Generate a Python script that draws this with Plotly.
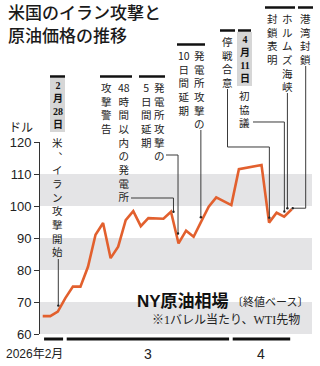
import plotly.graph_objects as go

# ---------------- data ----------------
dates = ["2026-02-25", "2026-02-26", "2026-02-27",
         "2026-03-02", "2026-03-03", "2026-03-04", "2026-03-05", "2026-03-06",
         "2026-03-09", "2026-03-10", "2026-03-11", "2026-03-12", "2026-03-13",
         "2026-03-16", "2026-03-17", "2026-03-18", "2026-03-19", "2026-03-20",
         "2026-03-23", "2026-03-24", "2026-03-25", "2026-03-26", "2026-03-27",
         "2026-03-30", "2026-03-31",
         "2026-04-01", "2026-04-02", "2026-04-06", "2026-04-07", "2026-04-08",
         "2026-04-09", "2026-04-10", "2026-04-13", "2026-04-14"]
prices = [65.6, 65.6, 67.0,
          71.2, 74.8, 74.8, 81.0, 91.0,
          94.7, 83.7, 87.3, 95.6, 98.4,
          93.7, 96.2, 96.2, 96.0, 98.2,
          88.3, 92.3, 90.4, 95.1, 99.8,
          102.7, 101.5,
          100.3, 111.5, 112.0, 112.4, 112.8,
          94.8, 97.9, 96.7, 99.0]
y_ticks = [60, 70, 80, 90, 100, 110, 120]
band_ranges = [(60, 70), (80, 90), (100, 110)]
month_labels = ["2026年2月", "3", "4"]
month_keys = ["2026-02", "2026-03", "2026-04"]

title_lines = ["米国のイラン攻撃と", "原油価格の推移"]
unit_label = "ドル"
legend_main = "NY原油相場"
legend_sub = "〔終値ベース〕"
legend_note = "※1バレル当たり、WTI先物"

# events: date the leader points to, and the text columns (right-to-left reading)
event_dates = ["2026-02-27", "2026-03-20", "2026-03-23", "2026-03-26",
               "2026-04-09", "2026-04-13", "2026-04-14", "2026-04-14"]
event_texts = [
    [["2", "月", "28", "日"], ["米", "︑", "イ", "ラ", "ン", "攻", "撃", "開", "始"]],
    [["攻", "撃", "警", "告"], ["48", "時", "間", "以", "内", "の", "発", "電", "所"]],
    [["5", "日", "間", "延", "期"], ["発", "電", "所", "攻", "撃", "の"]],
    [["10", "日", "間", "延", "期"], ["発", "電", "所", "攻", "撃", "の"]],
    [["停", "戦", "合", "意"]],
    [["4", "月", "11", "日"], ["初", "協", "議"]],
    [["封", "鎖", "表", "明"], ["ホ", "ル", "ム", "ズ", "海", "峡"]],
    [["港", "湾", "封", "鎖"]],
]

# ---------------- layout geometry (pixels) ----------------
W, H = 320, 366
L, R, T, B = 40, 8, 142, 32
PW, PH = W - L - R, H - T - B
XMIN, XMAX = -0.36, 35.69
YMIN, YMAX = 60, 120


def px_x(p):
    return (p - L) / PW


def px_y(p):
    return (H - B - p) / PH


def idx_px(i):
    return L + (i - XMIN) / (XMAX - XMIN) * PW


def val_py(v):
    return (H - B) - (v - YMIN) / (YMAX - YMIN) * PH


TXT = "#222222"
CJK = "Noto Sans CJK JP"
FS = 10.5            # vertical label font size
FS_HL = 10           # highlighted date font size

# per-event style: columns (xc, ytop, highlight), top bar (x0,x1,y), leader spec
event_style = [
    dict(cols=[(57.5, 79, True), (57.5, 134, False)], bar=(50, 65, 76.5),
         leader=("v", 259, 0.5, 6)),
    dict(cols=[(106, 79, False), (123.5, 79, False)], bar=(100, 132, 76.5),
         leader=("h", (131, 198), 2.5, 0)),
    dict(cols=[(146.5, 79, False), (159.5, 79, False)], bar=(139, 165, 76.5),
         leader=("h", (166, 155), -0.5, 10)),
    dict(cols=[(184, 47, False), (199.5, 47, False)], bar=(177, 205, 44.5),
         leader=("v", 130, -0.3, 4.5)),
    dict(cols=[(227.5, 33, False)], bar=(220, 235, 30.5),
         leader=("hv", (227.5, 89, 147), 0.3, 5)),
    dict(cols=[(244.5, 33, True), (244.5, 87, False)], bar=(238, 251, 30.5),
         leader=("h", (253, 122), 0.2, 5)),
    dict(cols=[(272, 10, False), (287.5, 10, False)], bar=(265, 295, 7.5),
         leader=("v", 93, -4.3, 1)),
    dict(cols=[(305.5, 10, False)], bar=(298, 313, 7.5),
         leader=("vh", (305.7, 66), 1, 1)),
]

fig = go.Figure()

# gray bands
shapes = []
for lo, hi in band_ranges:
    shapes.append(dict(type="rect", xref="paper", yref="paper", x0=0, x1=1,
                       y0=(lo - YMIN) / (YMAX - YMIN), y1=(hi - YMIN) / (YMAX - YMIN),
                       fillcolor="#E4E4E6", line_width=0, layer="below"))

fig.add_trace(go.Scatter(x=list(range(len(dates))), y=prices, mode="lines",
                         line=dict(color="#E2602E", width=2.6),
                         hoverinfo="skip", showlegend=False, cliponaxis=False))

annotations = []

# title
for i, t in enumerate(title_lines):
    annotations.append(dict(text=t, x=px_x(6), y=px_y(11 + 24 * i), xref="paper", yref="paper",
                            xanchor="left", yanchor="middle", showarrow=False,
                            font=dict(family=CJK, size=17, color="#1a1a1a", weight=500)))

# unit
annotations.append(dict(text=unit_label, x=px_x(21), y=px_y(126.5), xref="paper", yref="paper",
                        xanchor="center", yanchor="middle", showarrow=False, borderpad=0,
                        font=dict(family=CJK, size=12, color=TXT)))

# events
for d, cols, st in zip(event_dates, event_texts, event_style):
    i = dates.index(d)
    bx0, bx1, by = st["bar"]
    shapes.append(dict(type="line", xref="paper", yref="paper", x0=px_x(bx0), x1=px_x(bx1),
                       y0=px_y(by), y1=px_y(by), line=dict(color="#111", width=2.5)))
    for tokens, (xc, ytop, hl) in zip(cols, st["cols"]):
        if hl:
            pitch = FS_HL * 1.3
            shapes.append(dict(type="rect", xref="paper", yref="paper",
                               x0=px_x(xc - 7.5), x1=px_x(xc + 7.5),
                               y0=px_y(ytop - 1), y1=px_y(ytop + pitch * len(tokens) + 1),
                               fillcolor="#D6D6D6", line_width=0, layer="below"))
            f = dict(family="Liberation Serif, " + CJK, size=FS_HL, color="#111", weight="bold")
        else:
            f = dict(family=CJK, size=FS, color=TXT)
        annotations.append(dict(text="<br>".join(tokens), x=px_x(xc), y=px_y(ytop),
                                xref="paper", yref="paper", xanchor="center", yanchor="top",
                                align="center", showarrow=False, borderpad=0, font=f))
    # leader
    kind, spec, dx, gap = st["leader"]
    ex = idx_px(i) + dx
    ey = val_py(prices[i]) - gap
    if kind == "v":
        pts = [(ex, spec), (ex, ey)]
    elif kind == "h":
        sx, sy = spec
        pts = [(sx, sy), (ex, sy), (ex, ey)]
    elif kind == "hv":
        sx, sy, my = spec
        pts = [(sx, sy), (sx, my), (ex, my), (ex, ey)]
    else:  # "vh"
        sx, sy = spec
        pts = [(sx, sy), (sx, ey), (ex, ey)]
    path = "M " + " L ".join(f"{px_x(a):.5f},{px_y(b):.5f}" for a, b in pts)
    shapes.append(dict(type="path", xref="paper", yref="paper", path=path,
                       line=dict(color="#3a3a3a", width=1)))
    shapes.append(dict(type="circle", xref="paper", yref="paper",
                       x0=px_x(ex - 1.2), x1=px_x(ex + 1.2), y0=px_y(ey + 1.2), y1=px_y(ey - 1.2),
                       fillcolor="#222", line_width=0))

# month bars + labels
for m, (key, lab) in enumerate(zip(month_keys, month_labels)):
    ids = [k for k, d in enumerate(dates) if d.startswith(key)]
    a = ids[0] + 0.18
    b = ids[-1] + 0.7 if m < len(month_keys) - 1 else ids[-1] - 0.2
    shapes.append(dict(type="line", xref="paper", yref="paper", x0=px_x(idx_px(a)), x1=px_x(idx_px(b)),
                       y0=px_y(339), y1=px_y(339), line=dict(color="#111", width=3)))
    if m == 0:
        annotations.append(dict(text=lab, x=px_x(idx_px(b) + 2), y=px_y(354), xref="paper", yref="paper",
                                xanchor="right", yanchor="middle", showarrow=False,
                                font=dict(family="Liberation Sans, " + CJK, size=12, color=TXT)))
    else:
        annotations.append(dict(text=lab, x=px_x((idx_px(a) + idx_px(b)) / 2), y=px_y(354),
                                xref="paper", yref="paper", xanchor="center", yanchor="middle",
                                showarrow=False, font=dict(family="Liberation Sans", size=14, color=TXT)))

# legend-ish texts
annotations.append(dict(text=legend_main, x=px_x(230), y=px_y(301.5), xref="paper", yref="paper",
                        xanchor="right", yanchor="middle", showarrow=False, borderpad=0,
                        font=dict(family="Liberation Sans, " + CJK, size=17, color="#111", weight="bold")))
annotations.append(dict(text=legend_sub, x=px_x(230.5), y=px_y(300.5), xref="paper", yref="paper",
                        xanchor="left", yanchor="middle", showarrow=False, borderpad=0,
                        font=dict(family=CJK, size=11, color=TXT)))
annotations.append(dict(text=legend_note, x=px_x(301), y=px_y(320), xref="paper", yref="paper",
                        xanchor="right", yanchor="middle", showarrow=False, borderpad=0,
                        font=dict(family="Liberation Serif, " + CJK, size=12, color=TXT)))

fig.update_layout(
    width=W, height=H, margin=dict(l=L, r=R, t=T, b=B, pad=0),
    paper_bgcolor="white", plot_bgcolor="white",
    shapes=shapes, annotations=annotations, showlegend=False,
    xaxis=dict(range=[XMIN, XMAX], visible=False, fixedrange=True),
    yaxis=dict(range=[YMIN, YMAX], tickvals=y_ticks, showgrid=False, zeroline=False,
               showline=True, linecolor="#333", linewidth=1, ticks="outside", ticklen=5,
               tickcolor="#333", tickwidth=1,
               tickfont=dict(family="Liberation Sans", size=13, color=TXT), fixedrange=True),
)

fig.write_html("out.html", config={"displayModeBar": False})
